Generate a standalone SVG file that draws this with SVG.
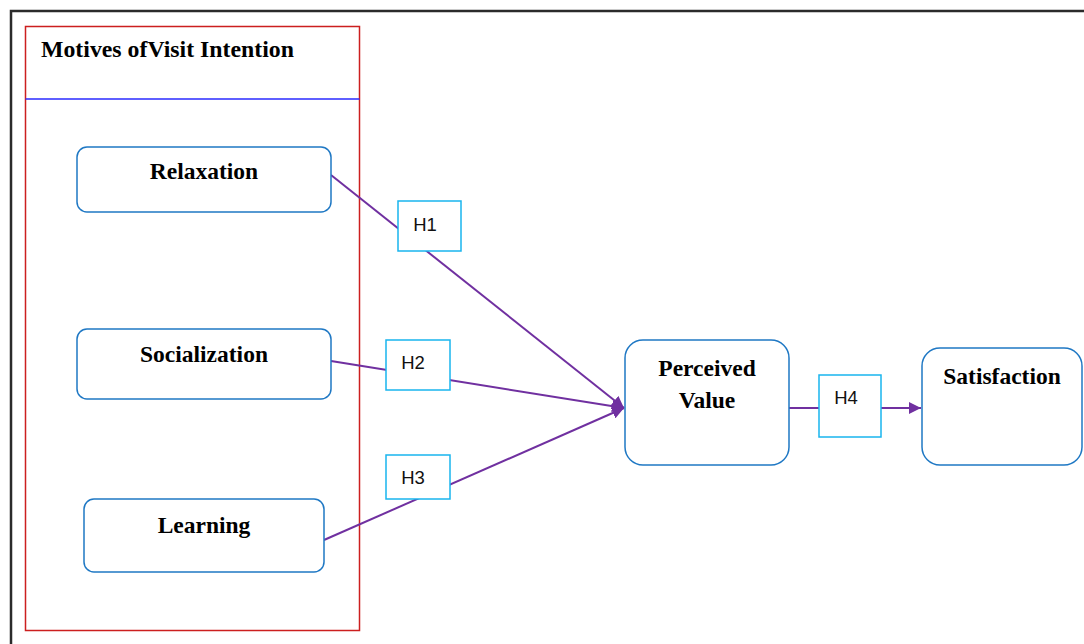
<svg xmlns="http://www.w3.org/2000/svg" width="1084" height="644" viewBox="0 0 1084 644">
  <style>
    .node { fill: #ffffff; stroke: #1f78c4; stroke-width: 1.5; }
    .title { font-family: "Liberation Serif", serif; font-weight: bold; font-size: 23.5px; fill: #000; text-anchor: middle; }
    .hbox { fill: #ffffff; stroke: #19b5ee; stroke-width: 1.5; }
    .hlabel { font-family: "Liberation Sans", sans-serif; font-size: 18.5px; fill: #111; text-anchor: middle; }
    .link { stroke: #7030a0; stroke-width: 2; fill: none; }
  </style>
  <defs>
    <marker id="arrow" viewBox="0 0 10 10" refX="10" refY="5" markerWidth="6" markerHeight="6" orient="auto" markerUnits="strokeWidth">
      <path d="M0,0 L10,5 L0,10 z" fill="#7030a0"/>
    </marker>
  </defs>

  <rect width="1084" height="644" fill="#ffffff"/>

  <!-- outer frame -->
  <path d="M11,644 V11 H1084" fill="none" stroke="#2b2b2b" stroke-width="2.5"/>

  <!-- motives container -->
  <g id="motives">
    <rect x="25.5" y="26.5" width="334" height="604" fill="none" stroke="#cc1f1f" stroke-width="1.5"/>
    <line x1="25.5" y1="99" x2="359.5" y2="99" stroke="#2a2aff" stroke-width="1.5"/>
    <text x="41" y="57" font-family="Liberation Serif, serif" font-weight="bold" font-size="23.8" fill="#000">Motives ofVisit Intention</text>
  </g>

  <!-- connectors -->
  <g id="connectors">
    <line class="link" x1="331" y1="175" x2="624" y2="408" marker-end="url(#arrow)"/>
    <line class="link" x1="331" y1="361" x2="624" y2="408" marker-end="url(#arrow)"/>
    <line class="link" x1="324" y1="540" x2="624" y2="408" marker-end="url(#arrow)"/>
    <line class="link" x1="789" y1="408" x2="921" y2="408" marker-end="url(#arrow)"/>
  </g>

  <g id="relaxation">
    <rect class="node" x="77" y="147" width="254" height="65" rx="10"/>
    <text class="title" x="204" y="179">Relaxation</text>
  </g>
  <g id="socialization">
    <rect class="node" x="77" y="329" width="254" height="70" rx="10"/>
    <text class="title" x="204" y="362">Socialization</text>
  </g>
  <g id="learning">
    <rect class="node" x="84" y="499" width="240" height="73" rx="10"/>
    <text class="title" x="204" y="533">Learning</text>
  </g>
  <g id="perceived-value">
    <rect class="node" x="625" y="340" width="164" height="125" rx="18"/>
    <text class="title" x="707" y="376">Perceived</text>
    <text class="title" x="707" y="408">Value</text>
  </g>
  <g id="satisfaction">
    <rect class="node" x="922" y="348" width="160" height="117" rx="18"/>
    <text class="title" x="1002" y="384">Satisfaction</text>
  </g>

  <!-- hypothesis labels -->
  <g id="h1">
    <rect class="hbox" x="398" y="201" width="63" height="50"/>
    <text class="hlabel" x="425" y="231">H1</text>
  </g>
  <g id="h2">
    <rect class="hbox" x="386" y="340" width="64" height="50"/>
    <text class="hlabel" x="413" y="369">H2</text>
  </g>
  <g id="h3">
    <rect class="hbox" x="386" y="455" width="64" height="44"/>
    <text class="hlabel" x="413" y="484">H3</text>
  </g>
  <g id="h4">
    <rect class="hbox" x="819" y="375" width="62" height="62"/>
    <text class="hlabel" x="846" y="404">H4</text>
  </g>
</svg>
